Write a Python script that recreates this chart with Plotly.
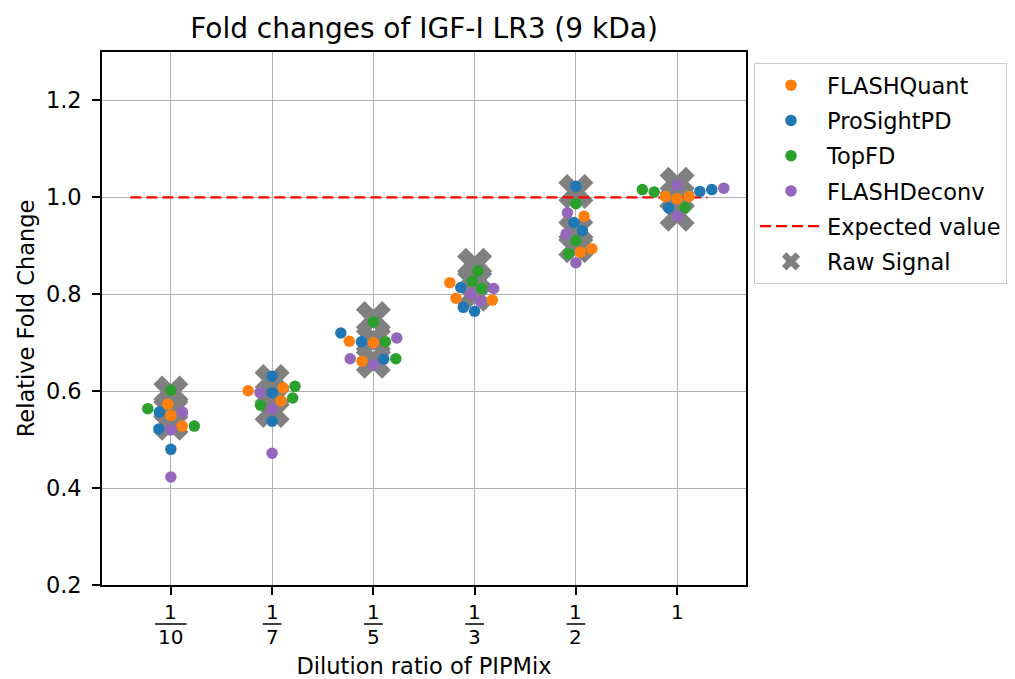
import numpy as np
import plotly.graph_objects as go

# Dilution ratios on the x axis (numerator / denominator, "" means whole number)
ratio_num = ["1", "1", "1", "1", "1", "1"]
ratio_den = ["10", "7", "5", "3", "2", ""]
positions = list(range(len(ratio_num)))

# Relative fold changes, three replicates per dilution for each tool
flashquant = [
    [0.550, 0.573, 0.528],
    [0.607, 0.601, 0.580],
    [0.700, 0.703, 0.662],
    [0.824, 0.792, 0.788],
    [0.961, 0.894, 0.887],
    [1.002, 0.997, 1.002],
]
prosightpd = [
    [0.557, 0.522, 0.480],
    [0.631, 0.597, 0.538],
    [0.720, 0.702, 0.666],
    [0.814, 0.773, 0.765],
    [1.023, 0.948, 0.931],
    [1.012, 1.016, 0.978],
]
topfd = [
    [0.602, 0.564, 0.528],
    [0.610, 0.586, 0.571],
    [0.743, 0.702, 0.667],
    [0.848, 0.827, 0.812],
    [0.987, 0.911, 0.884],
    [1.016, 1.011, 0.979],
]
flashdeconv = [
    [0.557, 0.520, 0.423],
    [0.597, 0.564, 0.472],
    [0.710, 0.667, 0.654],
    [0.812, 0.801, 0.786],
    [0.968, 0.925, 0.865],
    [1.025, 1.019, 0.961],
]
raw_signal = [
    [0.596, 0.565, 0.534],
    [0.620, 0.590, 0.560],
    [0.750, 0.705, 0.662],
    [0.860, 0.830, 0.800],
    [1.012, 0.930, 0.900],
    [1.027, 1.000, 0.965],
]
expected_value = 1.0
expected_span = [-0.4, 5.3]

tools = [
    ("FLASHQuant", flashquant, "#ff7f0e"),
    ("ProSightPD", prosightpd, "#1f77b4"),
    ("TopFD", topfd, "#2ca02c"),
    ("FLASHDeconv", flashdeconv, "#9467bd"),
]

# Figure geometry
W, H = 1015, 679
M_L, M_R, M_T, M_B = 102, W - 746, 52, H - 585
X_RANGE = [-0.68, 5.68]
Y_RANGE = [0.2, 1.3]
px_per_x = (W - M_L - M_R) / (X_RANGE[1] - X_RANGE[0])
px_per_y = (H - M_T - M_B) / (Y_RANGE[1] - Y_RANGE[0])

DOT = 11.5          # marker diameter in px
FONT = "DejaVu Sans"
FS = 22.5


def beeswarm(y_px, r):
    """Return horizontal pixel offsets that keep circles of radius r apart."""
    order = np.argsort(y_px, kind="stable")
    placed = []
    offsets = np.zeros(len(y_px))
    for idx in order:
        y = y_px[idx]
        neigh = [(px, py) for px, py in placed if abs(py - y) < 2 * r]
        lefts, rights = [], []
        for px, py in neigh:
            dx = np.sqrt(max((2 * r) ** 2 - (y - py) ** 2, 0.0)) * 1.05
            lefts.append(px - dx)
            rights.append(px + dx)
        cands = [0.0] + lefts + rights
        cands = sorted(cands, key=abs)
        x_new = cands[-1]
        for c in cands:
            if all((c - px) ** 2 + (y - py) ** 2 >= (2 * r) ** 2 - 1e-6 for px, py in neigh):
                x_new = c
                break
        placed.append((x_new, y))
        offsets[idx] = x_new
    return offsets


# Build swarm coordinates per dilution, all tools pooled
swarm_x = {name: [] for name, _, _ in tools}
swarm_y = {name: [] for name, _, _ in tools}
for i in positions:
    vals, owners = [], []
    for name, series, _ in tools:
        for v in series[i]:
            vals.append(v)
            owners.append(name)
    vals = np.array(vals)
    offs = beeswarm(vals * px_per_y, DOT / 2)
    for v, o, name in zip(vals, offs, owners):
        swarm_x[name].append(i + o / px_per_x)
        swarm_y[name].append(v)

fig = go.Figure()

# Raw signal crosses (drawn beneath everything else)
fig.add_trace(go.Scatter(
    x=[p for p in positions for _ in raw_signal[p]],
    y=[v for p in positions for v in raw_signal[p]],
    mode="markers", name="Raw Signal", legendrank=6, legendgroup="raw",
    marker=dict(symbol="x", size=31, color="#808080", line=dict(width=0)),
))

# Expected value reference line
fig.add_trace(go.Scatter(
    x=expected_span, y=[expected_value, expected_value],
    mode="lines", name="Expected value", legendrank=5, legendgroup="expected",
    line=dict(color="#ff0000", width=2.4, dash="11px,5px"),
))

for rank, (name, _, color) in enumerate(tools, start=1):
    fig.add_trace(go.Scatter(
        x=swarm_x[name], y=swarm_y[name], mode="markers", name=name,
        legendrank=rank, legendgroup=name,
        marker=dict(size=DOT, color=color, line=dict(width=0)),
    ))

# Fractional tick labels on the x axis
annotations = []
shapes = []
FRAC_FS = 20
for i, (n, d) in enumerate(zip(ratio_num, ratio_den)):
    annotations.append(dict(
        x=i, y=0, xref="x", yref="paper", text=n, showarrow=False,
        yanchor="middle", yshift=-27,
        font=dict(family=FONT, size=FRAC_FS, color="black"),
    ))
    if d:
        half = (len(d) * 0.636 * FRAC_FS + 6) / 2
        shapes.append(dict(
            type="line", xref="x", yref="paper",
            xsizemode="pixel", xanchor=i, x0=-half, x1=half,
            ysizemode="pixel", yanchor=0, y0=-39, y1=-39,
            line=dict(color="black", width=1.5),
        ))
        annotations.append(dict(
            x=i, y=0, xref="x", yref="paper", text=d, showarrow=False,
            yanchor="middle", yshift=-51.5,
            font=dict(family=FONT, size=FRAC_FS, color="black"),
        ))

axis_common = dict(
    showline=True, linecolor="black", linewidth=1.6, mirror=True,
    showgrid=True, gridcolor="#b0b0b0", gridwidth=1.4,
    ticks="outside", ticklen=8, tickwidth=1.6, tickcolor="black",
    zeroline=False,
)

fig.update_layout(
    width=W, height=H,
    margin=dict(l=M_L, r=M_R, t=M_T, b=M_B, autoexpand=False),
    paper_bgcolor="white", plot_bgcolor="white",
    font=dict(family=FONT, size=FS, color="black"),
    title=dict(text="Fold changes of IGF-I LR3 (9 kDa)", x=(M_L + (W - M_R)) / 2 / W,
               xanchor="center", y=1 - 28 / H, yanchor="middle",
               font=dict(family=FONT, size=28, color="black")),
    xaxis=dict(
        range=X_RANGE, tickvals=positions, showticklabels=False,
        title=dict(text="Dilution ratio of PIPMix", standoff=70,
                   font=dict(family=FONT, size=FS)),
        **axis_common,
    ),
    yaxis=dict(
        range=Y_RANGE, tickvals=[0.2, 0.4, 0.6, 0.8, 1.0, 1.2], tickformat=".1f",
        ticklabelstandoff=6,
        title=dict(text="Relative Fold Change", standoff=5,
                   font=dict(family=FONT, size=FS)),
        tickfont=dict(family=FONT, size=FS),
        **axis_common,
    ),
    legend=dict(
        x=(754 - M_L) / (W - M_L - M_R), y=(585 - 63) / (H - M_T - M_B),
        xanchor="left", yanchor="top",
        bordercolor="#cccccc", borderwidth=1, bgcolor="white",
        font=dict(family=FONT, size=FS), itemwidth=62,
        tracegroupgap=3,
    ),
    annotations=annotations,
    shapes=shapes,
    showlegend=True,
)

fig.write_html("out.html")
